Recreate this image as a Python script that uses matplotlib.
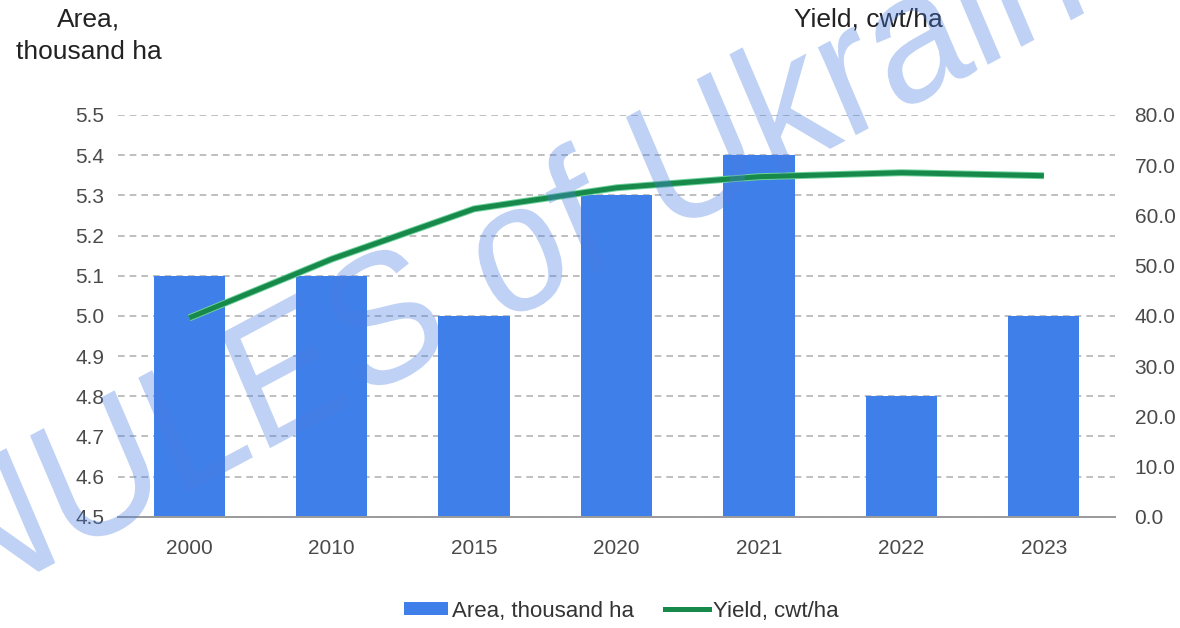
import numpy as np
import matplotlib
matplotlib.use("Agg")
import matplotlib.pyplot as plt
import matplotlib.patheffects as pe
from matplotlib.textpath import TextPath
from matplotlib.patches import PathPatch, Patch
from matplotlib.lines import Line2D
from matplotlib.font_manager import FontProperties
from matplotlib.transforms import Affine2D, IdentityTransform

years = ['2000', '2010', '2015', '2020', '2021', '2022', '2023']
area = [5.1, 5.1, 5.0, 5.3, 5.4, 4.8, 5.0]        # thousand ha
yield_cwt = [39.6, 51.3, 61.3, 65.5, 67.7, 68.5, 67.9]  # cwt/ha

area_ticks = [4.5, 4.6, 4.7, 4.8, 4.9, 5.0, 5.1, 5.2, 5.3, 5.4, 5.5]
yield_ticks = [0, 10, 20, 30, 40, 50, 60, 70, 80]

plt.rcParams['font.family'] = ['Liberation Sans', 'DejaVu Sans']

BAR = '#3f7fe9'
LINE = '#178a4b'
GRID = '#b4b4b4'
TICK = '#4a4a4a'

fig = plt.figure(figsize=(11.8, 6.28), dpi=100)
ax1 = fig.add_axes([0.1, 0.177, 0.845, 0.64])
ax2 = ax1.twinx()

x = np.arange(len(years))
ax1.bar(x, area, width=0.5, color=BAR, zorder=2)
ax1.set_xlim(-0.5, len(years) - 0.5)
ax1.set_ylim(4.5, 5.5)
ax1.set_yticks(area_ticks)
ax1.set_yticklabels(['%.1f' % v for v in area_ticks])
ax1.set_xticks(x)
ax1.set_xticklabels(years)
ax1.grid(axis='y', linestyle=(0, (4, 3)), color=GRID, linewidth=1.2, zorder=0)
ax1.set_axisbelow(True)

ax2.plot(x, yield_cwt, color=LINE, linewidth=3.6, solid_capstyle='butt',
         solid_joinstyle='round', zorder=3,
         path_effects=[pe.Stroke(linewidth=5.0, foreground='#6fd39c'), pe.Normal()])
ax2.set_ylim(0, 80)
ax2.set_yticks(yield_ticks)
ax2.set_yticklabels(['%.1f' % v for v in yield_ticks])

for a in (ax1, ax2):
    for s in ('top', 'left', 'right', 'bottom'):
        a.spines[s].set_visible(False)
    a.tick_params(length=0, labelsize=15, labelcolor=TICK)
ax1.spines['bottom'].set_visible(True)
ax1.spines['bottom'].set_color('#9a9a9a')
ax1.spines['bottom'].set_linewidth(1.4)
ax1.tick_params(axis='y', pad=10)
ax1.tick_params(axis='x', pad=16)
ax2.tick_params(axis='y', pad=14)

# axis titles
fig.text(89 / 1180, 1 - 20 / 628, 'Area,', ha='center', va='center', fontsize=19, color='#222222')
fig.text(89 / 1180, 1 - 52 / 628, 'thousand ha', ha='center', va='center', fontsize=19, color='#222222')
fig.text(868 / 1180, 1 - 20 / 628, 'Yield, cwt/ha', ha='center', va='center', fontsize=19, color='#222222')

# legend
handles = [Patch(facecolor=BAR), Line2D([], [], color=LINE, linewidth=3.6)]
fig.legend(handles, ['Area, thousand ha', 'Yield, cwt/ha'], loc='center',
           bbox_to_anchor=(621 / 1180, 17 / 628), ncol=2, frameon=False,
           fontsize=16, handlelength=2.0, handleheight=0.55, handletextpad=0.15,
           columnspacing=1.4, labelcolor='#333333')

# watermark, slanted across the chart
fp = FontProperties(family='Liberation Sans')
size = 165
text = 'NULES of Ukraine'
o_mid = TextPath((0, 0), 'NULES o', size=size, prop=fp).get_extents().x1 - 0.27 * size
tp = TextPath((0, 0), text, size=size, prop=fp)
tr = (Affine2D().translate(-o_mid, -0.27 * size).rotate_deg(25.5).scale(1, 1.12)
      .translate(515, 628 - 262))
wm = PathPatch(tr.transform_path(tp), facecolor='#4a7de0', edgecolor='none', alpha=0.35,
               transform=IdentityTransform(), zorder=10)
fig.add_artist(wm)

fig.savefig('out.png', dpi=100)
